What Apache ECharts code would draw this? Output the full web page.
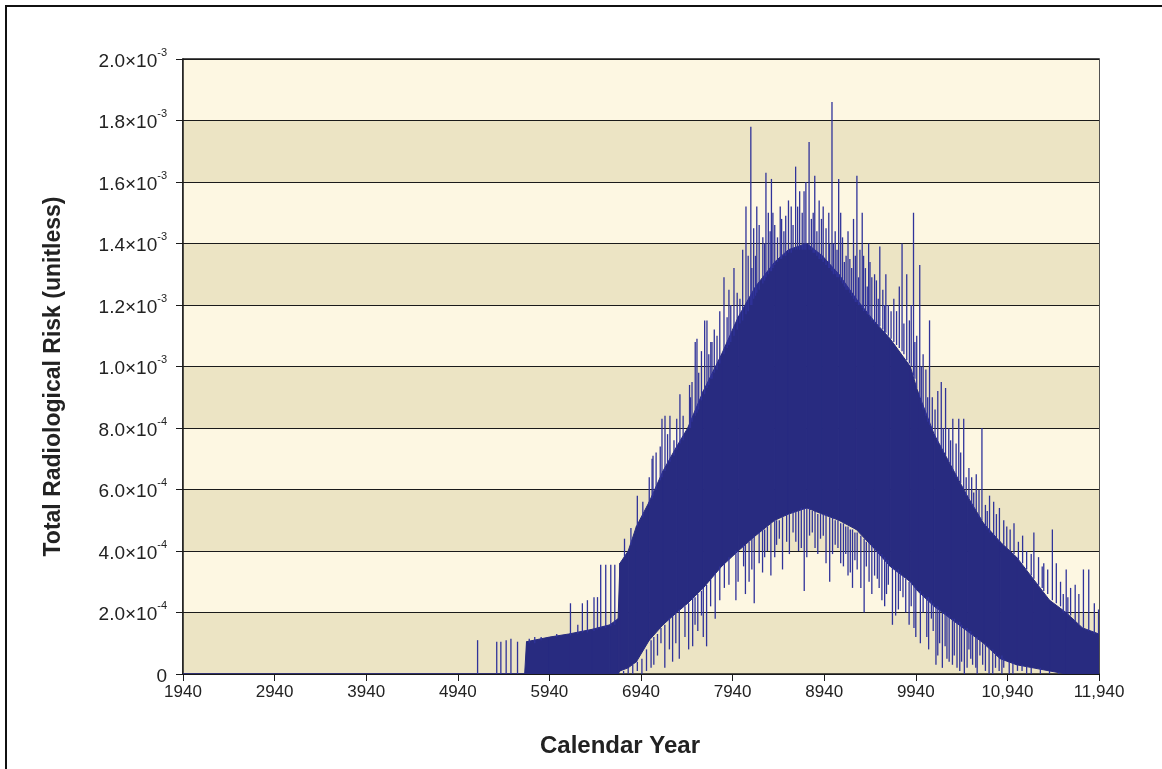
<!DOCTYPE html>
<html><head><meta charset="utf-8">
<script src="https://cdn.jsdelivr.net/npm/echarts@6/dist/echarts.min.js"></script>
<style>html,body{margin:0;padding:0;background:#fff}#c{width:1162px;height:769px}</style>
</head><body><div id="c"></div>
<script>
// all risk values are in units of 1e-4
const xTickYears = [1940,2940,3940,4940,5940,6940,7940,8940,9940,10940,11940];
const yTickValues = [0,2,4,6,8,10,12,14,16,18,20];

// dense core of the trace: lower and upper envelope
const coreYears = [1940,5670,5690,5940,6150,6400,6600,6690,6710,6800,6890,7030,7180,7330,7450,7620,7820,8000,8190,8400,8550,8750,8920,9100,9290,9480,9660,9880,9960,10140,10320,10500,10680,10860,11040,11220,11400,11580,11760,11940];
const coreLow   = [0,0,0,0,0,0,0,0,0.1,0.2,0.4,1.1,1.6,2.0,2.3,2.8,3.5,4.0,4.5,5.0,5.2,5.4,5.2,5.0,4.7,4.1,3.5,3.0,2.7,2.2,1.8,1.4,1.0,0.5,0.3,0.2,0.1,0,0,0];
const coreHigh  = [0,0,1.05,1.2,1.3,1.45,1.6,1.8,3.6,4.0,4.8,5.6,6.6,7.4,8.0,9.2,10.4,11.6,12.6,13.4,13.8,14.0,13.6,13.0,12.2,11.5,10.9,10.0,9.2,7.8,6.8,5.8,4.9,4.3,3.8,3.1,2.4,2.0,1.5,1.3];

// upward excursions: year, value where it leaves the band, peak value
const peakYears = [5156,5365,5410,5468,5520,5592,5720,5780,5850,6020,6170,6250,6300,6355,6427,6465,6500,6555,6610,6654,6760,6830,6900,6960,7030,7061,7071,7105,7150,7169,7202,7230,7256,7300,7330,7365,7400,7470,7497,7532,7551,7600,7635,7660,7702,7715,7770,7800,7846,7900,7955,8020,8050,8086,8110,8139,8170,8204,8230,8270,8304,8330,8364,8400,8430,8475,8520,8580,8628,8672,8700,8720,8775,8800,8837,8860,8885,8929,8960,9000,9025,9060,9098,9140,9179,9220,9260,9297,9330,9355,9390,9425,9460,9510,9547,9580,9613,9640,9700,9730,9760,9790,9841,9870,9915,9950,9983,10020,10050,10090,10120,10180,10218,10265,10300,10344,10380,10409,10430,10463,10520,10572,10600,10662,10700,10745,10790,10853,10900,10933,10970,11012,11060,11106,11150,11229,11280,11337,11380,11431,11474,11520,11582,11630,11680,11720,11770,11828,11889,11935,
  7480,7570,7680,7740,7880,7920,7990,8150,8190,8290,8350,8380,8460,8500,8550,8600,8650,8740,8820,8910,8990,9040,9080,9120,9160,9200,9240,9280,9315,9370,9410,9440,9490,9530,9600,9670,9810,9890,9930,10000,10070,10150,10240,10320,10490,10550,10630,10720,10820,11200,11320,11550,11600];
const peakBase  = [0,0,0,0,0,0,1.0,1.0,1.1,1.2,1.25,1.3,1.35,1.35,1.4,1.45,1.5,1.5,1.55,1.6,3.8,4.2,4.8,5.1,5.5,5.7,5.8,6.0,6.3,6.4,6.6,6.8,6.9,7.1,7.3,7.5,7.6,8.0,8.2,8.4,8.5,8.9,9.1,9.3,9.6,9.6,9.9,10.1,10.4,10.7,11.0,11.4,11.5,11.7,11.8,12.0,12.2,12.4,12.5,12.7,12.9,13.0,13.1,13.3,13.4,13.5,13.6,13.7,13.8,13.8,13.8,13.8,13.8,13.8,13.7,13.6,13.5,13.4,13.3,13.2,13.1,13.0,12.9,12.7,12.5,12.4,12.2,12.1,12.0,11.9,11.8,11.7,11.5,11.4,11.3,11.2,11.1,11.0,10.8,10.7,10.6,10.5,10.2,10.1,9.7,9.3,9.0,8.6,8.4,8.1,7.9,7.5,7.3,7.1,6.9,6.6,6.4,6.3,6.2,6.0,5.7,5.4,5.3,5.0,4.8,4.6,4.5,4.3,4.2,4.1,4.0,3.9,3.7,3.6,3.4,3.1,2.9,2.7,2.6,2.4,2.3,2.2,2.0,1.9,1.7,1.6,1.5,1.4,1.3,1.3,
  8.0,8.6,9.4,9.8,10.6,10.8,11.2,12.0,12.3,12.8,13.1,13.2,13.5,13.6,13.7,13.8,13.8,13.8,13.7,13.5,13.2,13.0,12.9,12.8,12.6,12.5,12.3,12.1,12.0,11.8,11.7,11.6,11.4,11.3,11.1,10.9,10.4,10.0,9.6,8.8,8.2,7.7,7.2,6.8,5.8,5.5,5.1,4.7,4.4,3.2,2.8,2.0,1.9];
const peakTop   = [1.1,1.05,1.05,1.1,1.15,1.05,1.15,1.2,1.2,1.3,2.3,1.6,2.3,2.4,2.5,2.5,3.55,3.55,3.55,3.55,4.4,4.75,5.8,5.6,6.4,7.0,7.1,7.2,7.4,8.3,8.4,7.8,8.4,7.6,8.3,9.1,8.4,9.4,9.5,10.8,10.9,10.5,11.5,11.5,10.8,10.8,11.0,11.8,12.9,12.5,13.2,12.2,13.8,15.2,13.6,17.8,14.5,15.2,14.6,14.2,16.3,15.0,16.1,14.6,14.2,14.8,14.9,15.2,16.5,15.7,15.0,15.7,17.3,14.8,16.2,14.4,15.4,15.2,14.5,14.0,18.6,14.4,16.1,14.2,13.6,13.5,14.8,16.2,13.8,15.0,13.2,14.0,12.9,12.8,13.9,12.5,13.0,12.0,12.2,11.8,12.6,14.0,13.0,11.5,15.0,11.0,13.3,10.4,9.9,11.5,9.0,9.2,9.5,9.3,8.0,8.3,7.5,8.3,7.2,8.3,6.7,5.9,6.5,8.0,5.5,5.8,5.6,5.4,5.0,4.8,4.7,4.9,4.3,4.5,4.0,4.6,3.8,3.6,3.4,4.7,3.6,3.0,3.4,2.8,2.9,2.6,3.4,3.4,2.3,2.1,
  9.0,9.8,10.4,11.2,11.6,12.0,12.4,13.2,13.6,14.0,14.4,15.0,15.2,14.4,15.4,14.6,15.2,16.0,15.0,14.8,15.0,14.0,13.8,15.0,13.4,14.4,13.2,13.6,12.9,13.6,12.6,13.4,13.0,12.2,12.0,11.8,11.4,12.0,10.8,10.0,9.0,8.6,8.0,7.6,6.4,6.4,6.0,5.3,5.2,3.9,3.5,2.6,2.5];

// downward excursions: year, value where it leaves the band, lowest value
const dipYears  = [6750,6950,7000,7080,7158,7200,7285,7358,7420,7504,7560,7656,7700,7750,7800,7900,7976,8060,8120,8176,8230,8267,8320,8358,8420,8485,8530,8600,8660,8722,8780,8840,8900,8960,9031,9090,9150,9200,9249,9300,9376,9430,9490,9540,9600,9640,9685,9750,9800,9867,9920,9990,10020,10060,10110,10160,10200,10230,10260,10304,10340,10390,10420,10470,10520,10560,10595,10640,10700,10780,10850,10900,10960,11050,11150,11300,
  6800,6850,6900,7050,7120,7250,7320,7460,7530,7620,7600,7850,8000,8080,8150,8290,8400,8450,8560,8630,8690,8750,8810,8870,8930,9000,9060,9120,9175,9225,9275,9340,9400,9460,9520,9570,9620,9720,9770,9830,9890,9940,10080,10130,10180,10280,10360,10440,10500,10540,10610,10670,10740,10810,10880,11000,11100,11200,11400,11500];
const dipTop    = [0.1,0.5,0.8,1.2,1.5,1.6,1.9,2.1,2.2,2.5,2.6,2.9,3.1,3.3,3.5,3.8,4.0,4.2,4.3,4.5,4.6,4.7,4.8,4.9,5.0,5.1,5.2,5.3,5.3,5.4,5.4,5.3,5.2,5.2,5.1,5.0,4.9,4.8,4.7,4.6,4.4,4.3,4.1,4.0,3.8,3.7,3.5,3.4,3.2,3.0,2.9,2.7,2.6,2.5,2.4,2.2,2.1,2.0,2.0,1.9,1.8,1.7,1.7,1.5,1.4,1.3,1.2,1.1,1.0,0.8,0.6,0.5,0.4,0.3,0.25,0.2,
  0.2,0.3,0.4,1.1,1.3,1.8,2.0,2.3,2.5,2.8,2.7,3.6,4.0,4.2,4.4,4.7,5.0,5.0,5.2,5.3,5.4,5.4,5.3,5.2,5.2,5.1,5.0,4.9,4.8,4.7,4.6,4.5,4.3,4.2,4.0,3.9,3.7,3.4,3.3,3.1,3.0,2.8,2.5,2.3,2.2,1.9,1.8,1.6,1.5,1.4,1.2,1.0,0.9,0.7,0.6,0.4,0.3,0.2,0.1,0.05];
const dipBottom = [0,0,0.1,0.3,1.0,0.2,0.4,0.5,1.2,0.9,1.4,0.9,2.2,1.8,2.4,2.9,2.4,3.5,3.0,2.3,3.6,3.3,4.0,3.2,4.2,3.4,4.3,4.6,4.0,2.7,4.5,4.1,4.4,3.6,3.9,4.1,3.5,3.2,2.8,3.4,2.0,3.0,3.2,2.8,2.2,2.9,1.6,2.1,2.5,1.6,1.5,1.0,2.0,1.2,1.8,0.3,1.0,0.2,0.9,0.4,0.3,0.2,0.1,0.0,0.8,0.3,0.2,0.6,0.1,0.0,0.1,0.2,0.0,0.1,0.0,0.0,
  0.0,0.0,0.1,0.2,0.6,0.8,1.0,0.8,1.6,1.2,1.9,2.8,3.0,2.6,3.4,3.8,3.8,4.4,3.9,4.3,4.1,3.8,4.6,3.9,4.5,3.0,4.2,3.6,3.9,3.3,3.7,2.8,3.5,2.6,3.1,2.4,2.6,1.9,2.7,2.0,2.2,1.2,0.8,1.4,0.6,0.5,0.6,0.4,0.2,0.5,0.0,0.3,0.0,0.2,0.0,0.0,0.1,0.0,0.0,0.0];

const NAVY = '#282b80';
const LINE = '#30339a';
const FONT = '"Liberation Sans", Arial, sans-serif';

function fmtYear(v){ return v >= 10000 ? String(v).replace(/\B(?=(\d{3})+(?!\d))/g, ',') : String(v); }
function fmtRisk(v){
  if (Math.abs(v) < 1e-9) return '{m|0}';
  const big = v >= 10 - 1e-9;
  const m = big ? v/10 : v;
  return '{m|' + m.toFixed(1) + '×10}{s|' + (big ? '-3' : '-4') + '}';
}

function segRender(params, api){
  const a = api.coord([api.value(0), api.value(1)]);
  const b = api.coord([api.value(0), api.value(2)]);
  return {type:'line', shape:{x1:a[0], y1:a[1], x2:b[0], y2:b[1]}, style:{stroke:LINE, lineWidth:1.3}};
}

// band pieces: consecutive envelope samples joined into quads
const bandData = coreYears.slice(0, -1).map((y, i) => [y, coreLow[i], coreHigh[i], coreYears[i+1], coreLow[i+1], coreHigh[i+1]]);
function bandRender(params, api){
  const p0 = api.coord([api.value(0), api.value(1)]);
  const p1 = api.coord([api.value(3), api.value(4)]);
  const p2 = api.coord([api.value(3), api.value(5)]);
  const p3 = api.coord([api.value(0), api.value(2)]);
  return {type:'polygon', shape:{points:[p0, p1, p2, p3]}, style:{fill:NAVY, stroke:NAVY, lineWidth:1}};
}

const chart = echarts.init(document.getElementById('c'), null, {renderer:'canvas'});
chart.setOption({
  animation:false,
  backgroundColor:'#ffffff',
  grid:{left:183, right:63, top:59, bottom:95, show:true, borderColor:'#1a1a1a', borderWidth:1.5, backgroundColor:'transparent'},
  xAxis:{
    type:'value', min:xTickYears[0], max:xTickYears[xTickYears.length-1], interval:1000,
    name:'Calendar Year', nameLocation:'middle', nameGap:60,
    nameTextStyle:{fontFamily:FONT, fontWeight:'bold', fontSize:24, color:'#222', padding:[0,42,0,0]},
    axisLine:{show:true, lineStyle:{color:'#1a1a1a', width:1.5}},
    axisTick:{show:true, length:7, lineStyle:{color:'#1a1a1a'}},
    axisLabel:{formatter:fmtYear, fontFamily:FONT, fontSize:17, color:'#222', margin:10},
    splitLine:{show:false}
  },
  yAxis:{
    type:'value', min:yTickValues[0], max:yTickValues[yTickValues.length-1], interval:2,
    name:'Total Radiological Risk (unitless)', nameLocation:'middle', nameGap:118,
    nameTextStyle:{fontFamily:FONT, fontWeight:'bold', fontSize:23, color:'#222', padding:[0,20,0,0]},
    axisLine:{show:true, lineStyle:{color:'#1a1a1a', width:1.5}},
    axisTick:{show:true, length:7, lineStyle:{color:'#1a1a1a'}},
    axisLabel:{formatter:fmtRisk, margin:16, color:'#222',
      rich:{m:{fontFamily:FONT, fontSize:19, color:'#222', lineHeight:24, verticalAlign:'bottom'},
            s:{fontFamily:FONT, fontSize:11, color:'#222', lineHeight:24, verticalAlign:'top'}}},
    splitLine:{show:true, lineStyle:{color:'#1a1a1a', width:1}},
    splitArea:{show:true, areaStyle:{color:['#ece4c4','#fdf7e2']}}
  },
  graphic:[{type:'polyline', shape:{points:[[6,769],[6,6],[1162,6]]}, style:{stroke:'#111', lineWidth:2, fill:null}, silent:true}],
  series:[
    {name:'Total Radiological Risk', type:'custom', silent:true, clip:true, z:3,
     data:bandData, encode:{x:[0,3], y:[1,2,4,5]}, renderItem:bandRender},
    {name:'peaks', type:'custom', silent:true, clip:true, z:4,
     data:peakYears.map((y,i)=>[y, peakBase[i], peakTop[i]]), encode:{x:0, y:[1,2]},
     renderItem:segRender},
    {name:'dips', type:'custom', silent:true, clip:true, z:4,
     data:dipYears.map((y,i)=>[y, dipTop[i], dipBottom[i]]), encode:{x:0, y:[1,2]},
     renderItem:segRender}
  ]
});
</script></body></html>
